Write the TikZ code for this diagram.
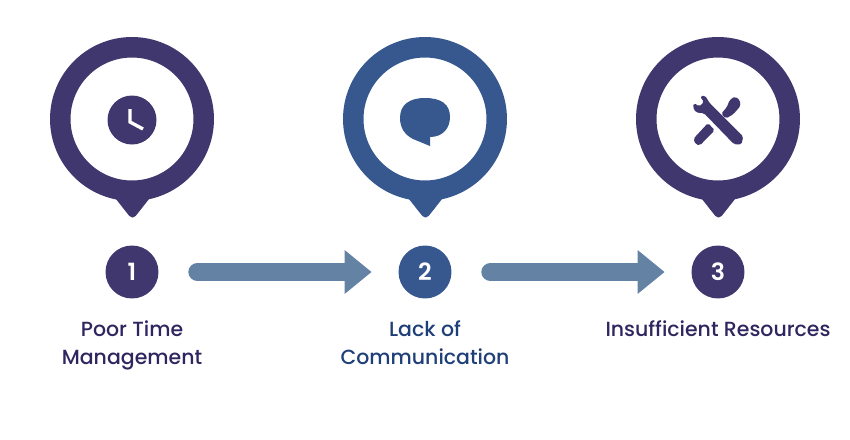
\documentclass[tikz,border=0pt]{standalone}
\usepackage{fontspec}
\usepackage{xcolor}
\usetikzlibrary{arrows.meta,positioning}
\newfontfamily\poppinsm{Poppins Medium}
\newfontfamily\poppinss{Poppins SemiBold}
\definecolor{morado}{HTML}{41376F}
\definecolor{azul}{HTML}{36588F}
\definecolor{flechagris}{HTML}{6482A3}
\definecolor{tintamorada}{HTML}{30265F}
\definecolor{tintaazul}{HTML}{1F3F78}
\begin{document}
\begin{tikzpicture}[x=0.02cm,y=-0.02cm,
  aro/.style={circle,draw=#1,line width=0.41cm,fill=white,minimum size=2.87cm,inner sep=0pt},
  numero/.style={circle,fill=#1,text=white,minimum size=1.06cm,inner sep=0pt,font=\poppinss\fontsize{13.5}{15}\selectfont},
  etiqueta/.style={text=#1,align=center,inner sep=0pt,font=\poppinsm\fontsize{11.65}{15.9}\selectfont},
  flecha/.style={flechagris,line width=0.36cm,line cap=round,-{Triangle[length=0.54cm,width=0.84cm]}}]
\useasboundingbox (0,0) rectangle (850,440);
\foreach \x/\i/\c/\t/\e in {132/1/morado/tintamorada/{Poor Time\\Management}, 425/2/azul/tintaazul/{Lack of\\Communication}, 718/3/morado/tintamorada/{Insufficient Resources}}{
  \fill[\c] (\x-20,194) [rounded corners=3pt] -- (\x+0.5,220) [sharp corners] -- (\x+21,194) -- cycle;
  \node[aro=\c] (pin\i) at (\x,119) {};
  \node[numero=\c] (num\i) at (\x,272) {\i};
  \node[etiqueta=\t,anchor=north] (txt\i) at (\x,320.5) {\e};
}
% flechas
\draw[flecha] ([xshift=0.77cm]num1.east) -- ([xshift=-0.53cm]num2.west);
\draw[flecha] ([xshift=0.77cm]num2.east) -- ([xshift=-0.53cm]num3.west);
% reloj
\fill[morado] (132,120) circle[radius=24.5];
\draw[white,line width=1.9pt] (130,109) -- (130,122) -- (143,129);
% globo
\fill[azul] (430,146) -- (430,137) .. controls (443,137) and (450,128) .. (450,117)
  .. controls (450,104) and (441,98) .. (425,98) .. controls (409,98) and (400,105) .. (400,118)
  .. controls (400,128) and (405,135) .. (413,139) -- cycle;
% herramientas
\fill[morado,rounded corners=1pt] (694,103) -- (699.3,106.5) -- (704,102) -- (700,96.3) -- (705,95.5)
  -- (709.8,103.2) -- (743.2,136.5) -- (741.5,144.5) -- (734,144.2) -- (704,113.2) -- (696,112.5) -- (692.8,107) -- cycle;
\fill[morado,rounded corners=1pt] (708,123) -- (714.7,130.3) -- (700,145.3) -- (695.5,144.2) -- (693.5,138.7) -- cycle;
\fill[morado,rounded corners=1pt] (721.2,113.7) -- (726,118.5) -- (733.3,114.2) -- (740.5,106) -- (739.8,100)
  -- (735,96.5) -- (729.6,100) -- (727,107) -- cycle;
\end{tikzpicture}
\end{document}
